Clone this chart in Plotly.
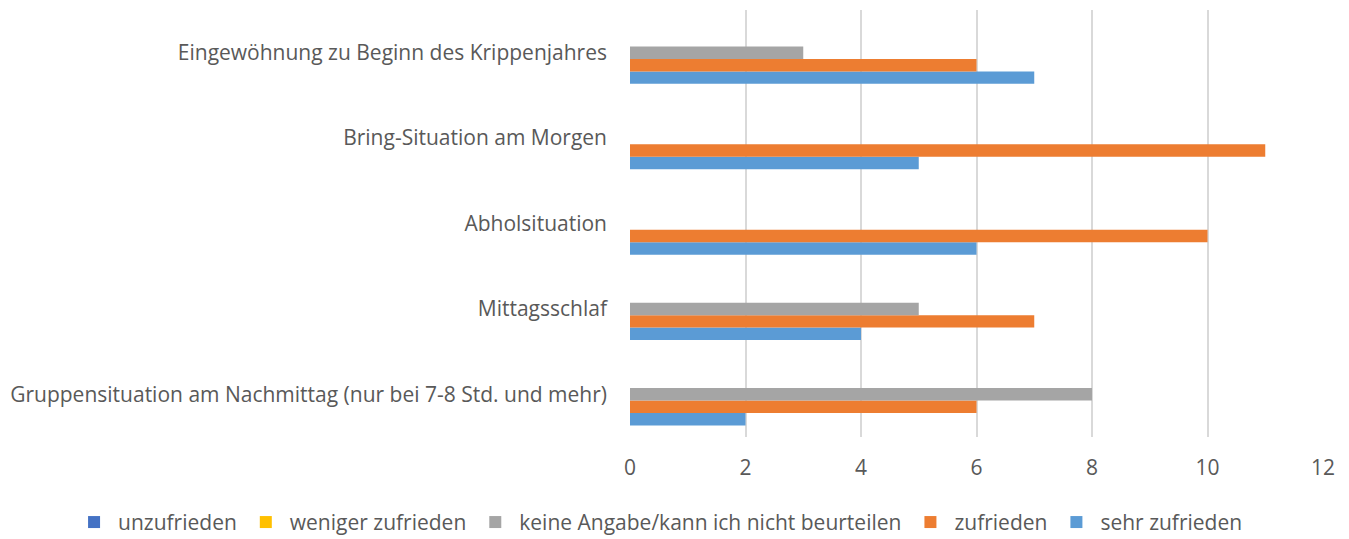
import plotly.graph_objects as go

categories = [
    "Gruppensituation am Nachmittag (nur bei 7-8 Std. und mehr)",
    "Mittagsschlaf",
    "Abholsituation",
    "Bring-Situation am Morgen",
    "Eingewöhnung zu Beginn des Krippenjahres",
]
sehr_zufrieden = [2, 4, 6, 5, 7]
zufrieden = [6, 7, 10, 11, 6]
keine_angabe = [8, 5, 0, 0, 3]
weniger_zufrieden = [0, 0, 0, 0, 0]
unzufrieden = [0, 0, 0, 0, 0]

series = [
    ("sehr zufrieden", sehr_zufrieden, "#5B9BD5"),
    ("zufrieden", zufrieden, "#ED7D31"),
    ("keine Angabe/kann ich nicht beurteilen", keine_angabe, "#A5A5A5"),
    ("weniger zufrieden", weniger_zufrieden, "#FFC000"),
    ("unzufrieden", unzufrieden, "#4472C4"),
]

FONT = "'Open Sans', sans-serif"
TXT = "#595959"
FS = 21

fig = go.Figure()
for name, vals, col in series:
    fig.add_trace(go.Bar(
        y=categories, x=vals, name=name, orientation="h",
        marker=dict(color=col, line=dict(width=0)),
    ))

fig.update_layout(
    width=1349, height=539,
    barmode="group", bargap=0.27, bargroupgap=0,
    plot_bgcolor="white", paper_bgcolor="white",
    margin=dict(l=622, r=34, t=2, b=110, autoexpand=False),
    font=dict(family=FONT, size=FS, color=TXT),
    xaxis=dict(
        range=[0, 12], dtick=2, showgrid=True, gridcolor="#D9D9D9", gridwidth=1.5,
        zeroline=False, showline=False, ticks="", tickfont=dict(size=FS, color=TXT),
        ticklabelstandoff=16, fixedrange=True,
    ),
    yaxis=dict(
        type="category", categoryorder="array", categoryarray=categories,
        showgrid=False, zeroline=False, showline=False, ticks="",
        tickfont=dict(size=FS, color=TXT), ticklabelstandoff=22,
    ),
    legend=dict(
        orientation="h", traceorder="reversed", x=-0.808, xanchor="left",
        y=-0.2, yanchor="middle", font=dict(size=FS, color=TXT),
        itemwidth=38, bgcolor="rgba(0,0,0,0)",
    ),
    showlegend=True,
)

fig.write_html("out.html")
